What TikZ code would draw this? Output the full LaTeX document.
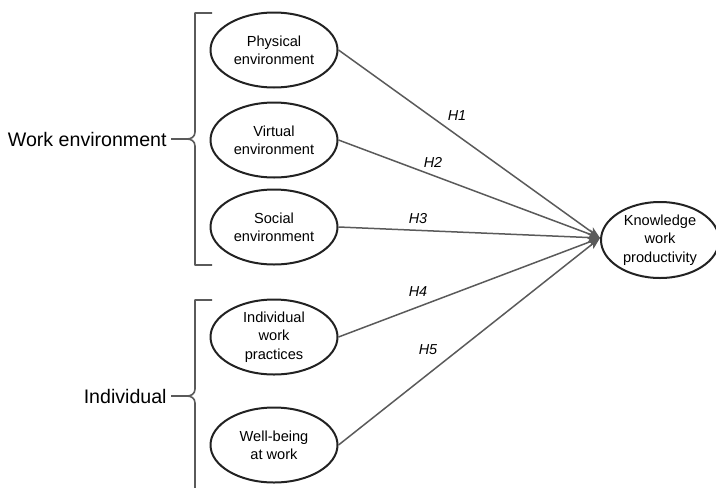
\documentclass[tikz,border=0pt]{standalone}
\usepackage{fontspec}
\setmainfont{Liberation Sans}
\usetikzlibrary{shapes.geometric,arrows.meta}
\definecolor{linegray}{HTML}{5A5A5A}
\definecolor{rimgray}{HTML}{222222}
\begin{document}
\begin{tikzpicture}[x=0.5pt,y=-0.5pt,
  factor/.style={ellipse,draw=rimgray,line width=1pt,inner sep=0pt,
    minimum width=63.5pt,minimum height=37.5pt,align=center,
    font=\fontsize{7.3}{9.2}\selectfont},
  conn/.style={draw=linegray,line width=0.75pt,
    -{Stealth[length=6pt,width=4.5pt,inset=1.5pt]}},
  hyp/.style={font=\fontsize{7.2}{8.6}\selectfont\itshape,inner sep=0pt},
  groupname/.style={font=\fontsize{9.8}{11}\selectfont,anchor=east,inner sep=0pt},
  brace/.style={draw=linegray,line width=0.8pt,line join=round}]
\useasboundingbox (0,0) rectangle (716,487);

% predictor constructs
\node[factor] (phys) at (274,50)  {Physical\\environment};
\node[factor] (virt) at (274,140) {Virtual\\environment};
\node[factor] (soc)  at (274,227) {Social\\environment};
\node[factor] (iwp)  at (274,337) {Individual\\work\\practices};
\node[factor] (wb)   at (274,445) {Well-being\\at work};

% outcome construct
\node[factor,minimum width=59pt,minimum height=38pt] (know) at (660,240)
  {Knowledge\\work\\productivity};
\coordinate (tip) at (600,238);

% hypothesised paths, each leaving its construct at the right-hand end
\draw[conn] (phys.east) -- (tip);
\draw[conn] (virt.east) -- (tip);
\draw[conn] (soc.east)  -- (tip);
\draw[conn] (iwp.east)  -- (tip);
\draw[conn] (wb.east)   -- (tip);

\node[hyp] (h1) at (457,116) {H1};
\node[hyp] (h2) at (433,162) {H2};
\node[hyp] (h3) at (418,219) {H3};
\node[hyp] (h4) at (418,292) {H4};
\node[hyp] (h5) at (428,350) {H5};

% group brackets
\node[groupname] (work) at (167,139) {Work environment};
\node[groupname] (indiv) at (167,396) {Individual};

\draw[brace] (212,13) -- (195,13) -- (195,132)
  .. controls (195,137) and (191,139) .. (187,139)
  .. controls (191,139) and (195,141) .. (195,146)
  -- (195,265) -- (212,265);
\coordinate (workcusp) at (187,139);
\draw[brace] ([xshift=2pt]work.east) -- (workcusp);

\draw[brace] (212,300) -- (195,300) -- (195,389)
  .. controls (195,394) and (191,396) .. (187,396)
  .. controls (191,396) and (195,398) .. (195,403)
  -- (195,492);
\coordinate (indivcusp) at (187,396);
\draw[brace] ([xshift=2pt]indiv.east) -- (indivcusp);
\end{tikzpicture}
\end{document}
